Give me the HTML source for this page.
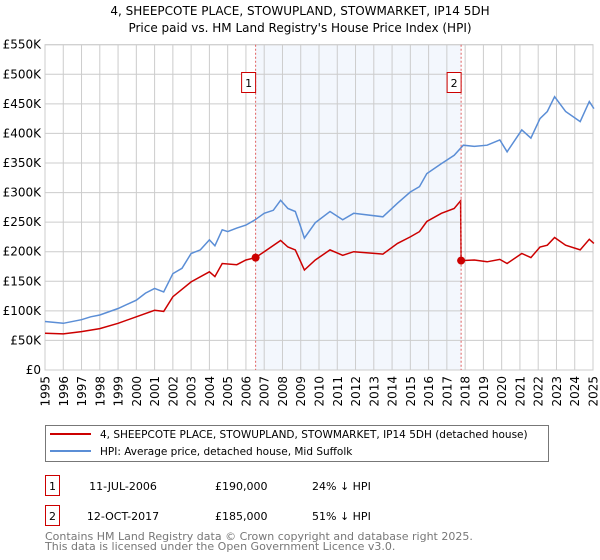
<!DOCTYPE html>
<html><head><meta charset="utf-8"><style>
body{margin:0;background:#fff;font-family:"DejaVu Sans","Liberation Sans",sans-serif;}
svg{display:block}
</style></head><body>
<svg id="chart" width="600" height="560" xmlns="http://www.w3.org/2000/svg" font-family="DejaVu Sans, Liberation Sans, sans-serif">
<text x="300" y="15" text-anchor="middle" font-size="12">4, SHEEPCOTE PLACE, STOWUPLAND, STOWMARKET, IP14 5DH</text>
<text x="300" y="32" text-anchor="middle" font-size="12">Price paid vs. HM Land Registry's House Price Index (HPI)</text>
<g id="grid"></g>
<g id="series"></g>
<g id="axes" font-size="12"></g>
<rect x="45.5" y="425.5" width="503" height="36" fill="#fff" stroke="#777"/>
<line x1="50" y1="434" x2="91" y2="434" stroke="#cc0000" stroke-width="2"/>
<text x="100" y="438" font-size="10.5">4, SHEEPCOTE PLACE, STOWUPLAND, STOWMARKET, IP14 5DH (detached house)</text>
<line x1="50" y1="451" x2="91" y2="451" stroke="#5b8ed6" stroke-width="2"/>
<text x="100" y="455" font-size="10.5">HPI: Average price, detached house, Mid Suffolk</text>
<rect x="45.5" y="475.5" width="14" height="20" fill="none" stroke="#cc0000"/>
<text x="52.5" y="490" text-anchor="middle" font-size="11">1</text>
<text x="123" y="490" text-anchor="middle" font-size="11">11-JUL-2006</text>
<text x="215" y="490" font-size="11">£190,000</text>
<text x="312" y="490" font-size="11">24% ↓ HPI</text>
<rect x="45.5" y="505.5" width="14" height="20" fill="none" stroke="#cc0000"/>
<text x="52.5" y="520" text-anchor="middle" font-size="11">2</text>
<text x="123" y="520" text-anchor="middle" font-size="11">12-OCT-2017</text>
<text x="215" y="520" font-size="11">£185,000</text>
<text x="312" y="520" font-size="11">51% ↓ HPI</text>
<text x="45" y="540" font-size="11" fill="#777">Contains HM Land Registry data © Crown copyright and database right 2025.</text>
<text x="45" y="550" font-size="11" fill="#777">This data is licensed under the Open Government Licence v3.0.</text>
</svg>
<script>
const yTicks=[0,50,100,150,200,250,300,350,400,450,500,550];
const yTickLabels=["£0","£50K","£100K","£150K","£200K","£250K","£300K","£350K","£400K","£450K","£500K","£550K"];
const xTicks=[1995,1996,1997,1998,1999,2000,2001,2002,2003,2004,2005,2006,2007,2008,2009,2010,2011,2012,2013,2014,2015,2016,2017,2018,2019,2020,2021,2022,2023,2024,2025];
const hpiYears=[1995,1996,1997,1997.5,1998,1999,2000,2000.5,2001,2001.5,2002,2002.5,2003,2003.5,2004,2004.3,2004.7,2005,2005.5,2006,2006.5,2007,2007.5,2007.9,2008.3,2008.7,2009,2009.2,2009.8,2010.6,2011.3,2011.9,2013.5,2014.3,2015,2015.5,2015.9,2016.7,2017.4,2017.9,2018.5,2019.2,2019.9,2020.3,2021.1,2021.6,2022.1,2022.5,2022.9,2023.5,2024.3,2024.8,2025.05];
const hpiValues=[82,79,85,90,93,104,118,130,138,132,163,172,197,203,220,210,237,234,240,245,254,265,270,287,273,268,242,223,249,268,254,265,259,282,301,310,332,349,363,380,378,380,389,369,406,392,425,437,462,437,420,454,442];
const priceYears=[1995,1996,1997,1998,1999,2000,2001,2001.5,2002,2003,2004,2004.3,2004.7,2005.5,2006,2006.53,2007,2007.9,2008.3,2008.7,2009,2009.2,2009.8,2010.6,2011.3,2011.9,2013.5,2014.3,2015,2015.5,2015.9,2016.7,2017.4,2017.75,2017.78,2018.5,2019.2,2019.9,2020.3,2021.1,2021.6,2022.1,2022.5,2022.9,2023.5,2024.3,2024.8,2025.05];
const priceValues=[62,61,65,70,79,90,101,99,124,149,166,158,180,178,186,190,200,219,208,203,183,169,186,203,194,200,196,214,225,234,251,265,273,286,185,186,183,187,180,197,190,208,211,224,211,203,221,214];
const saleYears=[2006.53,2017.78];
const saleValues=[190,185];
const saleLabels=["1","2"];
const shadeRange=[2006.53,2017.78];

const NS="http://www.w3.org/2000/svg";
const L=45,R=593,T=44.7,B=370;
const xs=y=>L+(y-1995)/30*(R-L);
const ys=v=>B-v/550*(B-T);
function mk(tag,attrs,parent){const e=document.createElementNS(NS,tag);for(const k in attrs)e.setAttribute(k,attrs[k]);parent.appendChild(e);return e;}
const grid=document.getElementById('grid'),ser=document.getElementById('series'),axes=document.getElementById('axes');
let r=mk('rect',{x:xs(shadeRange[0]),y:T,width:xs(shadeRange[1])-xs(shadeRange[0]),height:B-T,fill:'#eef3fc',opacity:0.7},grid);


yTicks.forEach((v,i)=>{
 const l=mk('line',{x1:L,x2:R,y1:ys(v),y2:ys(v),stroke:'#ccc','stroke-width':1},grid);
 
 
 const t=mk('text',{x:L-4,y:ys(v)+4,'text-anchor':'end'},axes);t.textContent=yTickLabels[i];
 
 
});
xTicks.forEach(y=>{
 const l=mk('line',{x1:xs(y),x2:xs(y),y1:T,y2:B,stroke:'#ccc','stroke-width':1},grid);
 
 
 const t=mk('text',{x:0,y:0,transform:`translate(${xs(y)+4.5},${B+6}) rotate(-90)`,'text-anchor':'end'},axes);t.textContent=y;
 
 
});
const fr=mk('rect',{x:L,y:T,width:R-L,height:B-T,fill:'none',stroke:'#ccc'},grid);


const hp=mk('path',{d:hpiYears.map((y,i)=>(i?'L':'M')+xs(y).toFixed(1)+','+ys(hpiValues[i]).toFixed(1)).join(''),fill:'none',stroke:'#5b8ed6','stroke-width':1.5},ser);


const pp=mk('path',{d:priceYears.map((y,i)=>(i?'L':'M')+xs(y).toFixed(1)+','+ys(priceValues[i]).toFixed(1)).join(''),fill:'none',stroke:'#cc0000','stroke-width':1.5},ser);


saleYears.forEach((y,i)=>{
 const vl=mk('line',{x1:xs(y),x2:xs(y),y1:T,y2:B,stroke:'#e06060','stroke-dasharray':'2,2','stroke-width':1},ser);
 
 
 const c=mk('circle',{cx:xs(y),cy:ys(saleValues[i]),r:4,fill:'#cc0000'},ser);
 
 
 const b=mk('rect',{x:xs(y)-14,y:72.5,width:14,height:20,fill:'#fff',stroke:'#cc0000'},ser);
 
 
 const t=mk('text',{x:xs(y)-7,y:87,'text-anchor':'middle','font-size':11},ser);t.textContent=saleLabels[i];
 
 
});
</script>
</body></html>
